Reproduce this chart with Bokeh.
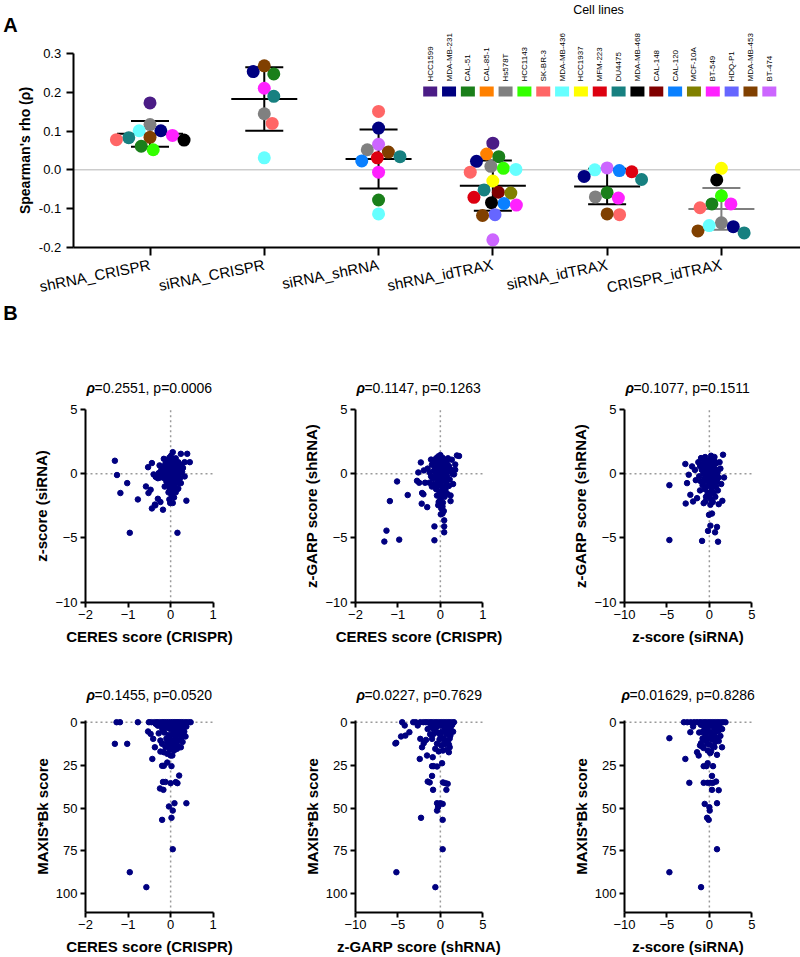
import math
from bokeh.plotting import figure
from bokeh.models import Range1d, FixedTicker, Label, PrintfTickFormatter
from bokeh.layouts import column, row
from bokeh.embed import file_html
from bokeh.resources import INLINE

FONT = "Liberation Sans"

# ---------------- Panel A data ----------------
cell_lines = ["HCC1599", "MDA-MB-231", "CAL-51", "CAL-85-1", "Hs578T", "HCC1143", "SK-BR-3",
              "MDA-MB-436", "HCC1937", "MFM-223", "DU4475", "MDA-MB-468", "CAL-148", "CAL-120",
              "MCF-10A", "BT-549", "HDQ-P1", "MDA-MB-453", "BT-474"]
cell_colors = ["#4b1c86", "#000080", "#1a7f1a", "#ff8000", "#808080", "#33ff00", "#ff6666",
               "#66ffff", "#ffff00", "#dd0010", "#178080", "#000000", "#800000", "#0a80ff",
               "#808000", "#ff22ff", "#6666ff", "#804000", "#cc66ff"]

comparisons = ["shRNA_CRISPR", "siRNA_CRISPR", "siRNA_shRNA", "shRNA_idTRAX", "siRNA_idTRAX", "CRISPR_idTRAX"]

g1_lines = ["HCC1599", "MDA-MB-231", "Hs578T", "MDA-MB-436", "BT-549", "DU4475", "MDA-MB-468",
            "SK-BR-3", "MDA-MB-453", "CAL-51", "HCC1143"]
g1_rho = [0.173, 0.101, 0.117, 0.101, 0.089, 0.083, 0.077, 0.078, 0.084, 0.061, 0.052]

g2_lines = ["MDA-MB-231", "CAL-51", "MDA-MB-453", "BT-549", "DU4475", "Hs578T", "SK-BR-3", "MDA-MB-436"]
g2_rho = [0.254, 0.248, 0.269, 0.211, 0.190, 0.145, 0.120, 0.031]

g3_lines = ["SK-BR-3", "MDA-MB-231", "BT-474", "Hs578T", "MDA-MB-453", "DU4475", "MFM-223",
            "CAL-120", "BT-549", "CAL-51", "MDA-MB-436"]
g3_rho = [0.151, 0.108, 0.066, 0.052, 0.046, 0.034, 0.031, 0.023, -0.006, -0.078, -0.114]

g4_lines = ["HCC1599", "CAL-85-1", "CAL-51", "MDA-MB-231", "Hs578T", "HCC1143", "SK-BR-3",
            "MDA-MB-436", "HCC1937", "CAL-148", "DU4475", "MCF-10A", "MFM-223", "CAL-120",
            "BT-549", "MDA-MB-468", "HDQ-P1", "MDA-MB-453", "BT-474"]
g4_rho = [0.069, 0.041, 0.034, 0.022, 0.009, 0.004, -0.006, 0.001, -0.029, -0.058, -0.052,
          -0.060, -0.071, -0.087, -0.091, -0.085, -0.116, -0.118, -0.181]

g5_lines = ["MDA-MB-436", "BT-474", "MFM-223", "CAL-120", "MDA-MB-231", "DU4475", "CAL-51",
            "Hs578T", "BT-549", "SK-BR-3", "MDA-MB-453"]
g5_rho = [0.000, 0.005, -0.005, -0.002, -0.017, -0.025, -0.059, -0.070, -0.073, -0.116, -0.114]

g6_lines = ["HCC1937", "MDA-MB-468", "HCC1143", "CAL-51", "SK-BR-3", "BT-549", "Hs578T",
            "MDA-MB-231", "DU4475", "MDA-MB-453", "MDA-MB-436"]
g6_rho = [0.004, -0.026, -0.067, -0.088, -0.098, -0.088, -0.137, -0.147, -0.163, -0.158, -0.144]

group_means = [0.093, 0.183, 0.028, -0.041, -0.043, -0.101]
group_sds = [0.033, 0.082, 0.076, 0.065, 0.046, 0.054]
y_ticks_A = [-0.2, -0.1, 0.0, 0.1, 0.2, 0.3]

# ---------------- Panel B data: (x, y) pairs ----------------
# 1: CERES score (CRISPR) vs z-score (siRNA)
b1_points = [
    (-1.31, 1.01), (-1.26, -0.10), (-1.02, -0.73), (-1.18, -1.50), (-0.96, -4.60), (0.16, -4.60),
    (-0.77, -2.00), (-0.58, -0.99), (-0.53, 0.51), (-0.44, 0.83), (-0.47, -1.25), (-0.52, -1.50),
    (-0.37, -2.40), (-0.44, -2.70), (-0.30, -1.95), (-0.24, -2.20), (-0.36, -2.46), (-0.18, -2.80),
    (-0.01, -2.28), (0.05, -2.28), (0.37, -2.10), (0.16, -1.20), (0.18, -1.15), (0.24, 1.55),
    (0.39, 1.55), (0.05, 1.68), (0.45, 0.90), (0.33, 0.90), (-0.26, 0.65), (-0.16, 1.16),
    (0.33, -0.21), (0.24, -0.73),
    (-0.40, -0.05), (-0.35, -0.25), (-0.30, -0.35), (-0.25, -0.30), (-0.20, -0.20), (-0.15, -0.35),
    (-0.10, -0.25), (-0.28, 0.05), (-0.22, 0.30), (-0.18, 0.55), (-0.12, 0.80), (-0.08, 1.05),
    (-0.03, 1.25), (0.02, 1.10), (0.07, 0.95), (0.12, 0.75), (0.17, 0.55), (0.22, 0.35), (0.27, 0.15),
    (-0.12, 0.40), (-0.06, 0.60), (0.00, 0.80), (0.05, 0.60), (0.10, 0.40), (0.15, 0.20), (0.20, 0.00),
    (-0.08, 0.15), (-0.02, 0.35), (0.03, 0.20), (0.08, 0.05), (0.13, -0.10), (-0.05, -0.05),
    (0.00, -0.20), (0.05, -0.40), (0.10, -0.55), (0.15, -0.40), (-0.02, -0.60), (0.03, -0.80),
    (0.08, -0.95), (-0.07, -0.85), (0.00, -1.10), (0.05, -1.30), (-0.05, -1.45), (0.02, -1.65),
    (0.08, -1.85), (-0.03, -2.00), (0.10, 0.20), (0.18, 0.90), (0.25, 0.70), (0.29, 0.45),
    (-0.15, 0.05), (0.22, -0.35), (0.12, 1.20), (0.00, 0.50), (-0.10, -0.60), (0.18, -0.75),
    (-0.14, -1.00), (0.12, -1.45),
    (0.00, 0.10), (0.02, 0.30), (0.06, 0.50), (-0.04, 0.45), (0.09, 0.70), (0.14, 0.50), (-0.10, 0.30),
    (-0.16, 0.20), (0.04, 0.75), (0.11, 0.90), (-0.01, 0.95), (0.16, 0.10), (0.19, 0.25), (-0.06, -0.15),
    (0.06, -0.10), (0.11, -0.30), (-0.01, -0.45), (0.03, -0.60), (0.07, -0.25), (-0.12, -0.10),
    (0.24, 0.10), (0.20, 0.75), (0.01, 1.40), (-0.02, -1.25), (0.10, -1.10), (0.04, -1.00)]

# 2: CERES score (CRISPR) vs z-GARP score (shRNA)
b2_points = [
    (-1.32, -5.28), (-1.27, -4.43), (-0.97, -5.13), (-1.19, -2.13), (-1.02, -0.60), (-0.77, -1.66),
    (-0.46, 0.88), (-0.52, 0.10), (-0.55, -0.55), (-0.50, -0.70), (-0.43, -1.50), (-0.40, -1.60),
    (-0.44, -2.33), (-0.31, -2.60), (-0.36, -0.70), (-0.39, 0.26), (-0.14, -5.18), (-0.14, -4.10),
    (0.09, -3.63), (0.09, -4.10), (0.09, -4.56), (0.01, -3.16), (0.39, 1.42), (0.44, 1.38),
    (0.35, 0.72), (0.35, 0.31), (0.24, -1.69), (0.24, -2.13), (0.32, -0.05), (0.27, 1.09), (0.05, -3.10),
    (-0.30, 0.40), (-0.25, 0.10), (-0.22, -0.20), (-0.20, 0.70), (-0.15, 1.00), (-0.10, 1.20),
    (-0.05, 1.35), (0.00, 1.45), (0.05, 1.25), (0.10, 1.10), (0.15, 0.90), (0.20, 0.60), (0.25, 0.30),
    (-0.12, 0.50), (-0.06, 0.75), (0.00, 0.95), (0.06, 0.70), (0.12, 0.45), (0.18, 0.20), (-0.08, 0.20),
    (-0.02, 0.40), (0.04, 0.15), (0.10, -0.05), (0.16, -0.25), (-0.18, -0.40), (-0.10, -0.30),
    (-0.04, -0.10), (0.02, -0.35), (0.08, -0.55), (0.14, -0.75), (0.20, -0.95), (-0.14, -0.80),
    (-0.06, -0.60), (0.00, -0.85), (0.06, -1.05), (0.12, -1.25), (-0.10, -1.20), (-0.02, -1.40),
    (0.04, -1.60), (0.10, -1.80), (-0.08, -1.70), (0.00, -2.00), (0.06, -2.25), (-0.05, -2.45),
    (0.02, -2.70), (0.08, -2.90), (-0.20, -1.00), (0.22, -0.45), (0.28, 0.00), (0.30, -0.80),
    (-0.26, -0.70), (0.18, 1.20), (-0.22, 1.10), (0.16, -1.55),
    (0.00, 0.20), (0.03, 0.50), (-0.03, 0.60), (0.07, 0.85), (-0.07, 1.00), (0.11, 0.30), (-0.11, 0.00),
    (0.05, -0.20), (-0.03, -0.45), (0.09, -0.35), (0.13, 0.00), (-0.15, 0.25), (0.02, 1.15), (0.20, 0.40),
    (-0.01, -0.70), (0.04, -1.30), (0.08, -1.10), (-0.05, -0.95), (0.02, -1.85), (-0.04, -2.20),
    (0.05, -2.55), (0.15, -0.50), (0.00, -0.05), (0.10, 0.65)]

# 3: z-score (siRNA) vs z-GARP score (shRNA)
b3_points = [
    (-4.71, -0.89), (-4.71, -5.16), (-2.83, 0.76), (-2.79, -2.32), (-0.86, -5.23), (1.02, -5.29),
    (0.90, -4.14), (0.67, -4.56), (-0.16, -4.45), (-0.04, -3.20), (0.31, -3.10), (0.12, -4.04),
    (1.61, 1.48), (1.73, -0.29), (1.53, -2.11), (1.10, -2.37), (-1.92, -2.16), (-2.24, -1.64),
    (-1.45, -1.90), (-2.43, -0.08), (-2.63, -0.73), (-2.04, 0.57), (-0.98, 1.22), (-0.47, -2.16),
    (-0.67, -2.29), (0.12, -2.42), (-1.70, 0.30), (-1.60, -0.50),
    (-1.30, 0.90), (-1.10, 0.60), (-0.90, 0.30), (-0.70, 0.00), (-1.20, -0.20), (-1.00, -0.60),
    (-0.80, -0.90), (-0.60, 1.10), (-0.40, 0.80), (-0.20, 0.50), (0.00, 0.20), (0.20, -0.10),
    (0.40, -0.40), (0.60, -0.70), (0.80, -1.00), (1.00, -1.30), (-0.50, 1.30), (-0.30, 1.00),
    (-0.10, 0.70), (0.10, 1.10), (0.30, 0.90), (0.50, 0.60), (0.70, 0.30), (0.90, 0.00), (1.10, -0.30),
    (1.30, 0.40), (1.20, 0.90), (0.60, 1.30), (0.20, 1.40), (-0.30, -0.30), (-0.10, -0.60),
    (0.10, -0.90), (0.30, -1.20), (0.50, -1.50), (-0.50, -1.20), (-0.20, -1.50), (0.00, -1.80),
    (0.20, -2.00), (0.40, -2.20), (-0.40, -1.80), (0.70, -1.80), (-0.70, 0.50), (0.00, -0.30),
    (0.40, 0.20), (0.80, 0.80), (1.40, -0.80), (-1.10, -1.30), (-0.60, -0.40),
    (0.00, 0.50), (-0.30, 0.30), (0.30, 0.50), (0.50, 0.00), (-0.50, 0.00), (0.10, -0.30), (-0.20, 0.00),
    (0.70, -0.30), (0.20, 0.80), (-0.40, 0.40), (0.80, 0.30), (0.00, -0.60), (0.40, -0.80),
    (-0.60, -0.60), (1.00, 0.20), (0.60, 1.00), (-0.80, 0.80), (0.20, -1.40), (0.90, -0.60), (-0.30, -1.00)]

# 4: CERES score (CRISPR) vs MAXIS*Bk score
b4_points = [
    (-1.27, 0), (-1.19, 0), (-0.77, 0), (-0.51, 0), (-0.45, 0), (-0.38, 0), (-0.32, 0), (-0.26, 0),
    (-0.20, 0), (-0.15, 0), (-0.10, 0), (-0.05, 0), (0.00, 0), (0.05, 0), (0.10, 0), (0.15, 0),
    (0.20, 0), (0.25, 0), (0.30, 0), (0.36, 0), (0.42, 0), (0.47, 0),
    (-1.31, 12.6), (-1.02, 12.6), (-0.53, 5.4), (-0.47, 6.8), (-0.41, 9.7), (-0.37, 14.6), (-0.43, 21.4),
    (-0.24, 10.7), (-0.20, 12.6), (-0.16, 17.5), (-0.24, 17.1), (-0.12, 14.6), (-0.08, 18.4),
    (0.00, 19.4), (0.04, 19.4), (-0.20, 25.4), (-0.16, 25.4), (-0.08, 23.5), (0.02, 25.6), (0.20, 31.1),
    (-0.25, 38.6), (-0.17, 39.4), (-0.18, 34.8), (-0.12, 34.8), (0.00, 35.5), (0.12, 34.9), (0.16, 35.5),
    (0.09, 47.2), (0.37, 47.2), (-0.04, 49.1), (0.05, 51.5), (-0.20, 56.9), (0.02, 55.7), (0.05, 74.0),
    (-0.96, 87.4), (-0.57, 96.1), (0.35, 8.3), (0.37, 2.5), (0.24, 14.6), (0.16, 13.6),
    (-0.30, 2.0), (-0.20, 3.5), (-0.10, 2.5), (0.00, 4.0), (0.10, 3.0), (0.20, 2.0), (0.30, 3.5),
    (-0.15, 6.0), (-0.05, 7.5), (0.05, 6.5), (0.15, 5.5), (0.25, 6.0), (-0.10, 9.5), (0.00, 11.0),
    (0.10, 9.0), (0.20, 10.5), (-0.05, 13.0), (0.05, 14.5), (0.12, 12.0), (-0.28, 6.5), (0.08, 16.5),
    (-0.02, 16.0), (0.28, 11.5), (0.30, 1.5), (-0.35, 1.0),
    (-0.25, 1.0), (-0.12, 1.5), (0.02, 2.0), (0.12, 1.0), (0.22, 4.5), (0.32, 5.5), (-0.18, 4.5),
    (-0.05, 3.5), (0.08, 5.0), (0.18, 7.5), (0.10, 7.0), (-0.02, 9.0), (0.15, 15.5), (0.26, 8.5),
    (0.04, 12.0), (-0.08, 11.5)]

# 5: z-GARP score (shRNA) vs MAXIS*Bk score
b5_points = [
    (-4.50, 0), (-3.20, 0), (-2.90, 0), (-2.36, 0), (-2.00, 0), (-1.70, 0), (-1.40, 0), (-1.10, 0),
    (-0.80, 0), (-0.50, 0), (-0.20, 0), (0.10, 0), (0.40, 0), (0.70, 0), (1.00, 0), (1.30, 0), (1.60, 0),
    (-5.30, 12.4), (-5.20, 12.0), (-4.63, 8.3), (-4.20, 1.9), (-3.65, 5.8), (-4.12, 7.8), (-2.67, 1.9),
    (-2.36, 9.7), (-2.43, 21.4), (-2.16, 14.6), (-1.96, 12.2), (-1.57, 19.4), (-1.69, 10.3),
    (-0.98, 9.7), (-0.90, 20.4), (-0.79, 6.8), (-1.18, 2.9), (-0.98, 25.6), (-0.79, 25.6),
    (-0.39, 25.8), (0.20, 23.9), (-0.98, 31.3), (-1.49, 34.6), (-1.26, 35.1), (-0.86, 39.4),
    (0.31, 35.1), (0.59, 35.5), (0.86, 35.9), (0.71, 39.4), (-0.39, 47.2), (0.00, 47.2), (0.27, 47.6),
    (-0.27, 49.5), (-0.39, 51.5), (0.27, 56.9), (-2.28, 55.7), (0.27, 74.0), (-5.18, 87.4),
    (-0.59, 96.1), (1.18, 7.8), (1.10, 14.6), (1.00, 17.5), (1.26, 4.9),
    (-0.50, 3.0), (0.00, 2.0), (0.50, 3.5), (1.00, 2.5), (-0.30, 6.0), (0.20, 5.5), (0.70, 7.0),
    (-0.10, 10.0), (0.40, 9.5), (0.90, 11.0), (0.10, 13.5), (0.60, 12.5), (0.80, 16.0), (0.30, 16.5),
    (-0.40, 12.5), (-0.60, 15.5), (-1.50, 4.0), (1.40, 1.5),
    (-1.00, 1.0), (-0.20, 1.5), (0.30, 1.0), (0.80, 1.5), (1.20, 3.0), (0.60, 4.5), (-0.80, 4.0),
    (0.90, 6.0), (1.10, 9.5), (0.50, 10.5), (0.00, 7.5), (1.00, 13.0), (0.40, 13.0), (-0.20, 17.0),
    (1.50, 5.5), (-1.20, 7.0)]

# 6: z-score (siRNA) vs MAXIS*Bk score
b6_points = [
    (-3.00, 0), (-2.60, 0), (-2.20, 0), (-1.80, 0), (-1.45, 0), (-1.10, 0), (-0.80, 0), (-0.50, 0),
    (-0.20, 0), (0.10, 0), (0.40, 0), (0.70, 0), (1.00, 0), (1.30, 0), (1.60, 0), (1.90, 0),
    (-4.71, 9.3), (-2.83, 21.4), (-2.36, 35.3), (-2.24, 5.8), (-1.92, 2.5), (-1.26, 19.4), (-1.45, 17.5),
    (-0.90, 14.0), (-0.70, 15.0), (-1.10, 13.5), (-0.98, 12.2), (-0.47, 8.2), (-0.45, 10.3), (-0.86, 5.8),
    (-0.35, 25.6), (-0.67, 25.6), (-0.20, 23.9), (0.43, 25.6), (0.31, 31.3), (-0.67, 35.3), (-0.20, 35.3),
    (0.12, 35.3), (0.43, 35.3), (0.31, 39.4), (0.79, 34.6), (1.10, 39.6), (0.90, 47.2), (-0.55, 47.6),
    (0.00, 49.5), (0.04, 51.5), (-0.27, 55.7), (-0.08, 56.9), (0.90, 74.0), (-4.71, 87.4), (-0.98, 96.1),
    (0.90, 19.0), (1.49, 14.6), (1.10, 4.9),
    (-0.60, 2.5), (-0.20, 3.0), (0.20, 2.0), (0.60, 3.5), (1.00, 2.0), (-0.30, 6.0), (0.10, 5.5),
    (0.50, 7.0), (-0.10, 9.5), (0.30, 10.0), (0.70, 11.5), (0.00, 13.0), (0.40, 14.0), (-0.20, 16.5),
    (0.20, 17.0), (0.60, 8.5), (1.30, 8.0), (-1.20, 6.0),
    (-1.00, 1.5), (-0.40, 1.0), (0.40, 1.5), (0.80, 1.0), (1.20, 2.5), (1.50, 4.0), (0.80, 5.5),
    (-0.60, 4.5), (0.20, 8.0), (0.90, 9.0), (-0.30, 12.5), (0.60, 14.5), (0.10, 18.0), (1.10, 11.0),
    (-0.80, 9.5)]

b_stats = [("0.2551", "0.0006"), ("0.1147", "0.1263"), ("0.1077", "0.1511"),
           ("0.1455", "0.0520"), ("0.0227", "0.7629"), ("0.01629", "0.8286")]

ceres_lim, z_lim = (-2, 1), (-10, 5)
maxis_top, maxis_bottom = -1, 110.7          # reversed axis: 0 at the top
ceres_ticks, z_ticks, maxis_ticks = [-2, -1, 0, 1], [-10, -5, 0, 5], [0, 25, 50, 75, 100]


# ---------------- helpers ----------------
class Mapper:
    """Linear pixel<->data mapping for a figure whose frame fills the whole canvas."""

    def __init__(self, v0, p0, v1, p1, size, vertical=False):
        self.s = (v1 - v0) / (p1 - p0)
        self.a = v0 - p0 * self.s
        self.size = size
        self.vertical = vertical

    def __call__(self, p):
        return self.a + p * self.s

    def range(self):
        if self.vertical:
            return Range1d(start=self(self.size), end=self(0))
        return Range1d(start=self(0), end=self(self.size))


def beeswarm(vals, px_per_y, diam):
    order = sorted(range(len(vals)), key=lambda i: -vals[i])
    placed = []
    offs = [0.0] * len(vals)
    for k, i in enumerate(order):
        y = vals[i] * px_per_y
        intervals = []
        for (xp, yp) in placed:
            dy = abs(y - yp)
            if dy < diam:
                hw = math.sqrt(diam * diam - dy * dy)
                intervals.append((xp - hw, xp + hw))
        cands = [0.0] + [a for a, b in intervals] + [b for a, b in intervals]
        ok = [c for c in cands if all(not (a + 1e-6 < c < b - 1e-6) for a, b in intervals)]
        sgn = 1 if k % 2 else -1
        ok.sort(key=lambda c: (round(abs(c), 2), sgn * c))
        offs[i] = ok[0]
        placed.append((ok[0], y))
    return offs


EM = {"0": .556, "1": .556, "2": .556, "3": .556, "4": .556, "5": .556, "6": .556, "7": .556,
      "8": .556, "9": .556, ".": .278, ",": .278, " ": .278, "=": .584, "p": .556}


def text_w(s, size):
    return sum(EM.get(c, .556) for c in s) * size


def base_figure(w, h, mx, my):
    p = figure(width=w, height=h, x_range=mx.range(), y_range=my.range(),
               output_backend="svg", toolbar_location=None, min_border=0)
    p.xgrid.visible = False
    p.ygrid.visible = False
    p.outline_line_color = None
    return p


def style_axes(p, tick_size, label_size, tick_out):
    for ax in (p.xaxis, p.yaxis):
        ax.axis_line_width = 2
        ax.axis_line_color = "black"
        ax.major_tick_line_width = 2
        ax.major_tick_line_color = "black"
        ax.major_tick_out = tick_out
        ax.major_tick_in = 0
        ax.minor_tick_line_color = None
        ax.major_label_text_font = FONT
        ax.major_label_text_font_size = tick_size
        ax.major_label_text_color = "black"
        ax.axis_label_text_font = FONT
        ax.axis_label_text_font_size = label_size
        ax.axis_label_text_font_style = "bold"
        ax.axis_label_text_color = "black"


def add_text(p, x, y, text, size, style="normal", align="left", baseline="middle", angle=0.0):
    p.add_layout(Label(x=x, y=y, text=text, angle=angle, text_align=align, text_baseline=baseline,
                       text_font=FONT, text_font_size=size, text_font_style=style,
                       text_color="black"))


# ---------------- Panel A (canvas at page 0,0) ----------------
A_W, A_H = 800, 300
mxA = Mapper(0, 149.5, 5, 720.9, A_W)    # category index <-> px
myA = Mapper(0.3, 53.3, -0.2, 246.7, A_H, vertical=True)
ppx = 1 / mxA.s
ppy = -1 / myA.s

pA = base_figure(A_W, A_H, mxA, myA)
style_axes(pA, "13px", "14px", 7)
yaxis_x = mxA(72.7)
pA.yaxis.fixed_location = yaxis_x
pA.yaxis.bounds = (min(y_ticks_A), max(y_ticks_A))
pA.yaxis.ticker = FixedTicker(ticks=y_ticks_A)
pA.yaxis.formatter = PrintfTickFormatter(format="%.1f")
pA.yaxis.axis_label = "Spearman's rho (ρ)"
pA.yaxis.axis_label_standoff = 3
pA.xaxis.fixed_location = min(y_ticks_A)
pA.xaxis.bounds = (yaxis_x, mxA(A_W))
pA.xaxis.ticker = FixedTicker(ticks=list(range(len(comparisons))))
pA.xaxis.major_label_overrides = {i: c for i, c in enumerate(comparisons)}
pA.xaxis.major_label_orientation = 0.2
pA.xaxis.major_label_text_font_size = "15px"
pA.xaxis.major_label_standoff = 9
pA.xaxis.major_tick_out = 8

# zero reference line
pA.segment(x0=[yaxis_x], y0=[0], x1=[mxA(A_W)], y1=[0], line_color="#b3b3b3", line_width=1)

color_of = dict(zip(cell_lines, cell_colors))
groups = [(g1_lines, g1_rho), (g2_lines, g2_rho), (g3_lines, g3_rho),
          (g4_lines, g4_rho), (g5_lines, g5_rho), (g6_lines, g6_rho)]

MEAN_HW = 33 / ppx
CAP_HW = 19 / ppx
for gi, (m, sd) in enumerate(zip(group_means, group_sds)):
    col = "#7f7f7f" if gi == 5 else "black"
    pA.segment(x0=[gi - MEAN_HW], y0=[m], x1=[gi + MEAN_HW], y1=[m], line_color=col, line_width=2)
    pA.segment(x0=[gi], y0=[m - sd], x1=[gi], y1=[m + sd], line_color=col, line_width=2)
    pA.segment(x0=[gi - CAP_HW, gi - CAP_HW], y0=[m - sd, m + sd],
               x1=[gi + CAP_HW, gi + CAP_HW], y1=[m - sd, m + sd], line_color=col, line_width=2)

for gi, (lines, rho) in enumerate(groups):
    offs = beeswarm(rho, ppy, 12.5)
    xs = [gi + o / ppx for o in offs]
    pA.scatter(xs, rho, size=13, fill_color=[color_of[c] for c in lines], line_color=None)

# legend
leg_x = [mxA(429.7 + 18.84 * i) for i in range(len(cell_lines))]
pA.rect(x=leg_x, y=[myA(91)] * len(cell_lines), width=14, height=10,
        width_units="screen", height_units="screen", fill_color=cell_colors, line_color=None)
for lx, name in zip(leg_x, cell_lines):
    add_text(pA, lx, myA(81), name, "8px", angle=math.pi / 2)
add_text(pA, mxA(598), myA(9), "Cell lines", "12.5px", align="center")
add_text(pA, mxA(2.7), myA(24), "A", "20px", style="bold")


# ---------------- Panel B ----------------
def scatter_panel(points, xlim, top_val, bottom_val, xticks, yticks, xlabel, ylabel, stats, w, h,
                  x_p0, x_p1, y_p0, y_p1, title_py, letter=None):
    mx = Mapper(xlim[0], x_p0, xlim[1], x_p1, w)
    my = Mapper(top_val, y_p0, bottom_val, y_p1, h, vertical=True)
    lo, hi = min(top_val, bottom_val), max(top_val, bottom_val)
    p = base_figure(w, h, mx, my)
    style_axes(p, "13px", "15px", 5)
    p.yaxis.fixed_location = xlim[0]
    p.yaxis.bounds = (lo, hi)
    p.yaxis.ticker = FixedTicker(ticks=yticks)
    p.yaxis.axis_label = ylabel
    p.yaxis.major_label_standoff = 3
    p.yaxis.axis_label_standoff = 2
    p.xaxis.fixed_location = bottom_val
    p.xaxis.bounds = tuple(xlim)
    p.xaxis.ticker = FixedTicker(ticks=xticks)
    p.xaxis.axis_label = xlabel
    p.xaxis.major_label_standoff = 3
    p.xaxis.axis_label_standoff = 5
    # dotted zero lines inside the plotting area
    p.segment(x0=[0, xlim[0]], y0=[lo, 0], x1=[0, xlim[1]], y1=[hi, 0],
              line_color="#9a9a9a", line_width=1.5, line_dash="2 3")
    xs = [pt[0] for pt in points]
    ys = [pt[1] for pt in points]
    p.scatter(xs, ys, size=5.5, color="#000080")
    rho, pv = stats
    rest = "=%s, p=%s" % (rho, pv)
    rw = 8.0
    total = rw + text_w(rest, 14)
    cpx = (x_p0 + x_p1) / 2
    add_text(p, mx(cpx - total / 2), my(title_py), "ρ", "14px", style="bold italic")
    add_text(p, mx(cpx - total / 2 + rw), my(title_py), rest, "14px")
    if letter:
        add_text(p, mx(2.7), my(12), letter, "20px", style="bold")
    return p


widths = [270, 270, 260]
x_px = [(85, 212.7), (85, 212.3), (84, 211.3)]
R1_H, R2_H = 350, 306
# row 1 canvas top at page 300; row 2 at page 650
r1 = dict(h=R1_H, y_p0=109, y_p1=301.7, title_py=87)
r2 = dict(h=R2_H, y_p0=70, y_p1=261.7, title_py=44)

f1 = scatter_panel(b1_points, ceres_lim, z_lim[1], z_lim[0], ceres_ticks, z_ticks, "CERES score (CRISPR)",
                   "z-score (siRNA)", b_stats[0], widths[0], r1["h"], *x_px[0],
                   r1["y_p0"], r1["y_p1"], r1["title_py"], letter="B")
f2 = scatter_panel(b2_points, ceres_lim, z_lim[1], z_lim[0], ceres_ticks, z_ticks, "CERES score (CRISPR)",
                   "z-GARP score (shRNA)", b_stats[1], widths[1], r1["h"], *x_px[1],
                   r1["y_p0"], r1["y_p1"], r1["title_py"])
f3 = scatter_panel(b3_points, z_lim, z_lim[1], z_lim[0], z_ticks, z_ticks, "z-score (siRNA)",
                   "z-GARP score (shRNA)", b_stats[2], widths[2], r1["h"], *x_px[2],
                   r1["y_p0"], r1["y_p1"], r1["title_py"])
f4 = scatter_panel(b4_points, ceres_lim, maxis_top, maxis_bottom, ceres_ticks, maxis_ticks,
                   "CERES score (CRISPR)", "MAXIS*Bk score", b_stats[3], widths[0], r2["h"], *x_px[0],
                   r2["y_p0"], r2["y_p1"], r2["title_py"])
f5 = scatter_panel(b5_points, z_lim, maxis_top, maxis_bottom, z_ticks, maxis_ticks,
                   "z-GARP score (shRNA)", "MAXIS*Bk score", b_stats[4], widths[1], r2["h"], *x_px[1],
                   r2["y_p0"], r2["y_p1"], r2["title_py"])
f6 = scatter_panel(b6_points, z_lim, maxis_top, maxis_bottom, z_ticks, maxis_ticks,
                   "z-score (siRNA)", "MAXIS*Bk score", b_stats[5], widths[2], r2["h"], *x_px[2],
                   r2["y_p0"], r2["y_p1"], r2["title_py"])

layout = column(pA, row(f1, f2, f3), row(f4, f5, f6))
open("out.html", "w").write(file_html(layout, INLINE))
